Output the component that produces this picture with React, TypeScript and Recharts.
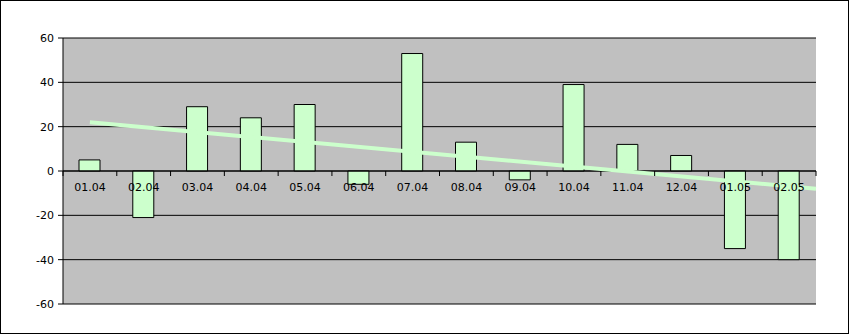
import React from "react";
import {
  BarChart,
  Bar,
  XAxis,
  YAxis,
  CartesianGrid,
  ReferenceLine
} from "recharts";

const dates = [
  "01.04", "02.04", "03.04", "04.04", "05.04", "06.04", "07.04",
  "08.04", "09.04", "10.04", "11.04", "12.04", "01.05", "02.05"
];
const values = [5, -21, 29, 24, 30, -6, 53, 13, -4, 39, 12, 7, -35, -40];
const yTicks = [-60, -40, -20, 0, 20, 40, 60];

// trend line: first category -> right edge of plot
const trendStart = { x: 1, y: 22 };
const trendEnd = { x: 14.5, y: -8 };

const data = dates.map((d, i) => ({ date: d, value: values[i], pos: i + 1 }));

const W = 847;
const H = 332;
const X_AXIS_H = 1;
const M = { top: 37, right: 32, bottom: 29 - X_AXIS_H, left: 0 };
const Y_AXIS_W = 62;
const PLOT_W = W - M.left - M.right - Y_AXIS_W;
const PLOT_H = H - M.top - M.bottom - X_AXIS_H;
const BAND = PLOT_W / dates.length;
const ZERO_Y = M.top + PLOT_H / 2;

const FONT = "'DejaVu Sans', sans-serif";
const GREEN = "#ccffcc";

// Excel style: labels just under the zero line, tick marks between categories
const DateTick = (props: any) => {
  const { x, payload, index } = props;
  const last = index === dates.length - 1;
  return (
    <g>
      <line x1={x - BAND / 2} x2={x - BAND / 2} y1={ZERO_Y} y2={ZERO_Y + 5} stroke="#000" />
      {last && (
        <line x1={x + BAND / 2} x2={x + BAND / 2} y1={ZERO_Y} y2={ZERO_Y + 5} stroke="#000" />
      )}
      <text
        x={x}
        y={ZERO_Y + 16}
        dy="0.355em"
        textAnchor="middle"
        fontFamily={FONT}
        fontSize={11}
        fill="#000"
      >
        {payload.value}
      </text>
    </g>
  );
};

const App: React.FC = () => {
  return (
    <div style={{ width: W, height: H, border: "1px solid #000", background: "#fff" }}>
      <style>{`body{margin:0}`}</style>
      <BarChart width={W} height={H} data={data} margin={M}>
        <CartesianGrid
          vertical={false}
          stroke="#000"
          strokeOpacity={1}
          fill="#c0c0c0"
          fillOpacity={1}
        />
        <XAxis
          dataKey="date"
          height={X_AXIS_H}
          axisLine={false}
          tickLine={false}
          tick={<DateTick />}
          interval={0}
        />
        <XAxis
          xAxisId="trend"
          dataKey="pos"
          type="number"
          domain={[0.5, 14.5]}
          allowDataOverflow
          hide
        />
        <YAxis
          width={Y_AXIS_W}
          domain={[-60, 60]}
          ticks={yTicks}
          interval={0}
          tickSize={5}
          tickMargin={4}
          stroke="#000"
          tick={{ fill: "#000", fontFamily: FONT, fontSize: 11 }}
        />
        <Bar
          dataKey="value"
          fill={GREEN}
          stroke="#000"
          strokeWidth={1}
          barSize={21}
          isAnimationActive={false}
        />
        <ReferenceLine y={0} stroke="#000" />
        <ReferenceLine
          xAxisId="trend"
          segment={[trendStart, trendEnd]}
          stroke={GREEN}
          strokeWidth={4}
          ifOverflow="visible"
        />
      </BarChart>
    </div>
  );
};

export default App;
